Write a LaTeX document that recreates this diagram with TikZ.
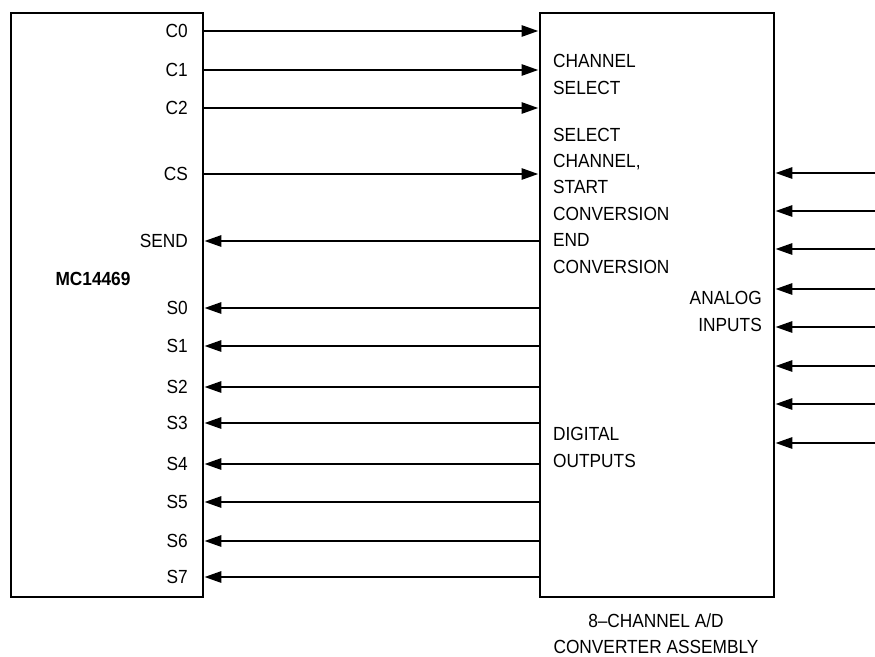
\documentclass[tikz,border=0pt]{standalone}
\usepackage{fontspec}
\setmainfont{Liberation Sans}[FakeStretch=0.91]
\usetikzlibrary{arrows.meta}
\begin{document}
\begin{tikzpicture}[x=1pt,y=-1pt,
  box/.style={draw,line width=2.8pt,inner sep=0pt,anchor=north west},
  lbl/.style={inner sep=0pt,font=\fontsize{19}{26.4}\selectfont},
  pin/.style={lbl,anchor=east},
  sig/.style={line width=2.8pt},
  tip/.style={-{Triangle[length=17pt,width=11pt]}}]
\useasboundingbox (0,0) rectangle (875,656);
% boxes
\node[box,minimum width=192pt,minimum height=584pt] (mc) at (9.5,11.5) {};
\node[box,minimum width=234pt,minimum height=584pt] (ad) at (538.5,11.5) {};
% MC14469 pins
\node[pin] (C0) at (188,31) {C0};
\node[pin] (C1) at (188,70) {C1};
\node[pin] (C2) at (188,108) {C2};
\node[pin] (CS) at (188,174) {CS};
\node[pin] (SEND) at (188,241) {SEND};
\node[pin] (S0) at (188,308) {S0};
\node[pin] (S1) at (188,346) {S1};
\node[pin] (S2) at (188,387) {S2};
\node[pin] (S3) at (188,423) {S3};
\node[pin] (S4) at (188,464) {S4};
\node[pin] (S5) at (188,502) {S5};
\node[pin] (S6) at (188,541) {S6};
\node[pin] (S7) at (188,577) {S7};
\node[lbl,anchor=base,font=\fontsize{19}{26.4}\bfseries] (name) at (93,285) {MC14469};
% A/D texts (base anchor = baseline of last line)
\node[lbl,anchor=base west,align=left] (chsel) at (553,94) {CHANNEL\\SELECT};
\node[lbl,anchor=base west,align=left] (selch) at (553,273) {SELECT\\CHANNEL,\\START\\CONVERSION\\END\\CONVERSION};
\node[lbl,anchor=base east,align=right] (ana) at (762,331) {ANALOG\\INPUTS};
\node[lbl,anchor=base west,align=left] (dig) at (553,467) {DIGITAL\\OUTPUTS};
\node[lbl,anchor=base,align=center,font=\fontsize{19}{25.5}\selectfont] (cap) at (656,653) {8–CHANNEL A/D\\CONVERTER ASSEMBLY};
% outgoing connectors
\foreach \p in {C0,C1,C2,CS}
  \draw[sig,tip] (mc.east |- \p) -- (ad.west |- \p);
\foreach \p in {SEND,S0,S1,S2,S3,S4,S5,S6,S7}
  \draw[sig,tip] (ad.west |- \p) -- (mc.east |- \p);
% analog inputs
\foreach \i/\y in {1/173,2/211,3/249,4/289,5/327,6/366,7/404,8/443}{
  \coordinate (in\i) at (875,\y);
  \draw[sig,tip] (in\i) -- (ad.east |- in\i);
}
\end{tikzpicture}
\end{document}
